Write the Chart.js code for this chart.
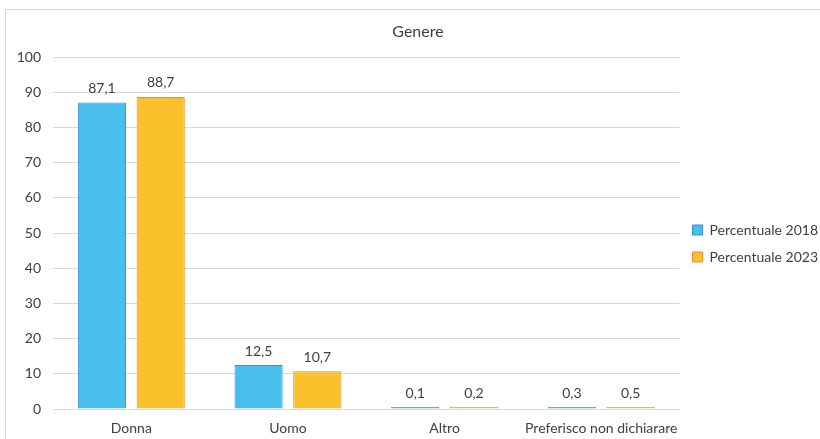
<!DOCTYPE html>
<html>
<head>
<meta charset="utf-8">
<script src="https://cdn.jsdelivr.net/npm/chart.js@4"></script>
<style>
  html, body { margin: 0; padding: 0; background: #fff; }
  #wrap { position: relative; width: 820px; height: 439px; }
</style>
</head>
<body>
<div id="wrap"><canvas id="genereChart" width="820" height="439"></canvas></div>
<script>
const categories = ["Donna", "Uomo", "Altro", "Preferisco non dichiarare"];
const perc2018 = [87.1, 12.5, 0.1, 0.3];
const perc2023 = [88.7, 10.7, 0.2, 0.5];
const yTicks = [0, 10, 20, 30, 40, 50, 60, 70, 80, 90, 100];

const FONT = "Lato, 'Open Sans', sans-serif";
const TEXT = "#404040";

// simple border round the chart, like the Excel picture
const frame = {
  id: "frame",
  beforeDraw(chart) {
    const ctx = chart.ctx;
    ctx.save();
    ctx.strokeStyle = "#d9d9d9";
    ctx.lineWidth = 1;
    ctx.strokeRect(5.5, 9.5, 830, 440);
    ctx.restore();
  },
};

// value labels above each bar, italian decimals
const valueLabels = {
  id: "valueLabels",
  afterDatasetsDraw(chart) {
    const ctx = chart.ctx;
    ctx.save();
    ctx.font = "14px " + FONT;
    ctx.fillStyle = TEXT;
    ctx.textAlign = "center";
    ctx.textBaseline = "bottom";
    chart.data.datasets.forEach((ds, i) => {
      chart.getDatasetMeta(i).data.forEach((bar, j) => {
        const txt = ds.data[j].toFixed(1).replace(".", ",");
        ctx.fillText(txt, bar.x, bar.y - 7);
      });
    });
    ctx.restore();
  },
};

const data = {
  labels: categories,
  datasets: [
    {
      label: "Percentuale 2018",
      data: perc2018,
      backgroundColor: "#47bfea",
      borderColor: "#3d8fd6",
      borderWidth: 1,
      minBarLength: 2,
    },
    {
      label: "Percentuale 2023",
      data: perc2023,
      backgroundColor: "#fbc12d",
      borderColor: "#f08a2c",
      borderWidth: 1,
      minBarLength: 2,
    },
  ],
};

const config = {
  type: "bar",
  data: data,
  plugins: [frame, valueLabels],
  options: {
    responsive: false,
    animation: false,
    layout: { padding: { left: 8, right: -8, top: 10, bottom: 0 } },
    datasets: {
      bar: { categoryPercentage: 0.75, barPercentage: 0.82 },
    },
    plugins: {
      title: {
        display: true,
        text: "Genere",
        color: TEXT,
        font: { family: FONT, size: 16, weight: "normal" },
        padding: { top: 12, bottom: 16 },
      },
      legend: {
        position: "right",
        title: {
          display: true,
          text: "",
          font: { size: 10 },
          padding: { top: 26, bottom: 0 },
        },
        labels: {
          color: TEXT,
          font: { family: FONT, size: 14 },
          boxWidth: 10,
          boxHeight: 10,
          padding: 13,
        },
      },
      tooltip: { enabled: false },
    },
    scales: {
      x: {
        afterFit: (s) => { s.height = 30; },
        grid: { display: false, drawTicks: false },
        border: { color: "#d9d9d9" },
        ticks: {
          color: TEXT,
          font: { family: FONT, size: 14 },
          padding: 11,
          maxRotation: 0,
          minRotation: 0,
          autoSkip: false,
        },
      },
      y: {
        min: 0,
        max: 100,
        afterFit: (s) => { s.width = 45; },
        afterBuildTicks: (s) => { s.ticks = yTicks.map((v) => ({ value: v })); },
        grid: { color: "#d9d9d9", drawTicks: false },
        border: { display: false },
        ticks: { color: TEXT, font: { family: FONT, size: 14 }, padding: 12 },
      },
    },
  },
};

var ctx = document.getElementById("genereChart").getContext("2d");
var chart = new Chart(ctx, config);
</script>
</body>
</html>
